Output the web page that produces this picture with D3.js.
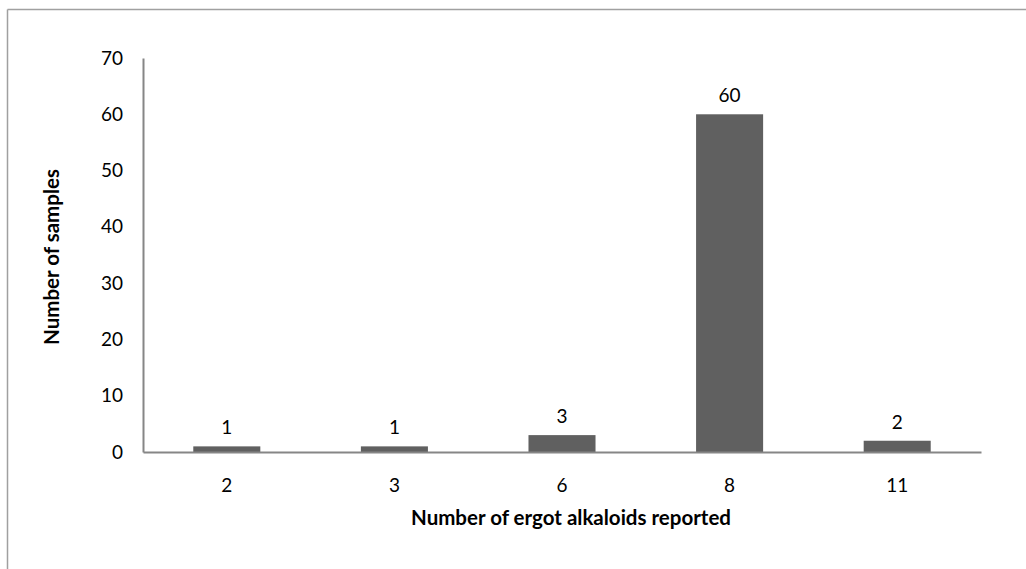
<!DOCTYPE html>
<html>
<head>
<meta charset="utf-8">
<script src="https://cdn.jsdelivr.net/npm/d3@7"></script>
<style>
  html, body { margin: 0; padding: 0; background: #fff; }
  svg { display: block; }
  text { font-family: Lato, "Open Sans", "Liberation Sans", sans-serif; fill: #000; }
</style>
</head>
<body>
<svg id="chart" width="1026" height="569"></svg>
<script>
// Number of ergot alkaloids reported per sample, and how many samples reported each count
const categories = ["2", "3", "6", "8", "11"];
const sampleCounts = [1, 1, 3, 60, 2];
const yTicks = [0, 10, 20, 30, 40, 50, 60, 70];

const svg = d3.select("#chart");
const W = 1026, H = 569;
const plot = { left: 143, right: 981, top: 58, bottom: 452 };

// chart area frame (top and left edges visible)
svg.append("line").attr("x1", 7.5).attr("x2", W).attr("y1", 9.5).attr("y2", 9.5)
  .attr("stroke", "#a0a0a0").attr("stroke-width", 1.5);
svg.append("line").attr("x1", 7.5).attr("x2", 7.5).attr("y1", 9.5).attr("y2", H)
  .attr("stroke", "#a0a0a0").attr("stroke-width", 1.5);

const x = d3.scaleBand().domain(categories).range([plot.left, plot.right]).paddingInner(0.6).paddingOuter(0.3);
const y = d3.scaleLinear().domain([0, 70]).range([plot.bottom, plot.top]);

// bars
svg.append("g").selectAll("rect").data(categories).join("rect")
  .attr("x", d => x(d))
  .attr("width", x.bandwidth())
  .attr("y", (d, i) => y(sampleCounts[i]))
  .attr("height", (d, i) => y(0) - y(sampleCounts[i]))
  .attr("fill", "#606060");

// value labels
svg.append("g").selectAll("text").data(categories).join("text")
  .attr("x", d => x(d) + x.bandwidth() / 2)
  .attr("y", (d, i) => y(sampleCounts[i]) - 12)
  .attr("text-anchor", "middle")
  .attr("font-size", 19)
  .text((d, i) => sampleCounts[i]);

// y axis
const yAxis = svg.append("g").attr("transform", `translate(${plot.left},0)`)
  .call(d3.axisLeft(y).tickValues(yTicks).tickSize(0).tickPadding(20));
yAxis.select(".domain").attr("stroke", "#868686").attr("stroke-width", 2);
yAxis.selectAll("text").attr("font-size", 19).attr("font-family", "Lato, sans-serif").attr("fill", "#000");

// x axis
const xAxis = svg.append("g").attr("transform", `translate(0,${plot.bottom})`)
  .call(d3.axisBottom(x).tickSize(0).tickPadding(27));
xAxis.select(".domain").attr("stroke", "#868686").attr("stroke-width", 2);
xAxis.selectAll("text").attr("font-size", 19).attr("font-family", "Lato, sans-serif").attr("fill", "#000");

// axis titles
svg.append("text")
  .attr("transform", `translate(59,${(plot.top + plot.bottom) / 2 + 2}) rotate(-90)`)
  .attr("text-anchor", "middle")
  .attr("font-size", 20.5).attr("font-weight", "bold")
  .text("Number of samples");

svg.append("text")
  .attr("x", 571).attr("y", 525)
  .attr("text-anchor", "middle")
  .attr("font-size", 20.5).attr("font-weight", "bold")
  .text("Number of ergot alkaloids reported");
</script>
</body>
</html>
